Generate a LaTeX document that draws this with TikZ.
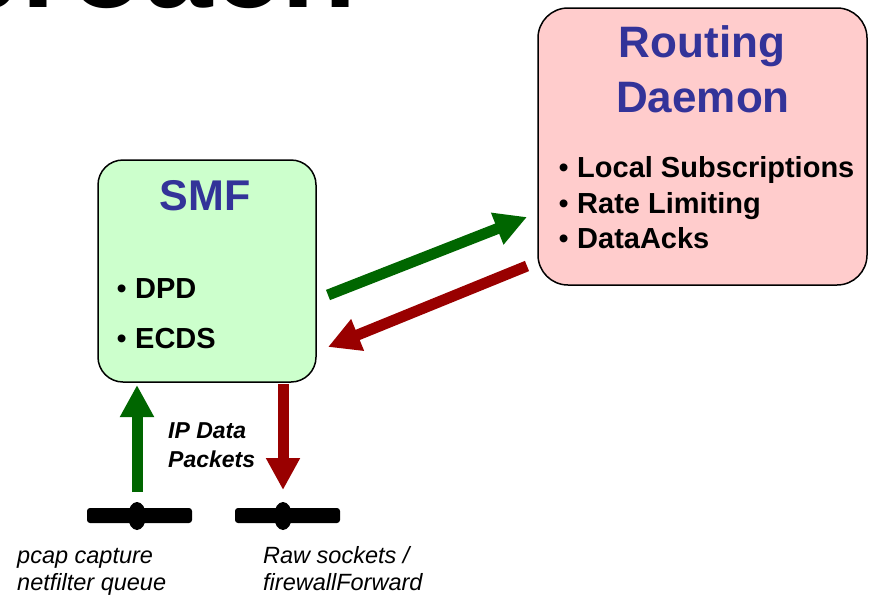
\documentclass[tikz,border=0pt]{standalone}
\usepackage{fontspec}
\setmainfont{Liberation Sans}
\usetikzlibrary{arrows.meta}
\definecolor{boxgreen}{HTML}{CCFFCC}
\definecolor{boxpink}{HTML}{FFCCCC}
\definecolor{titleblue}{HTML}{333399}
\definecolor{arrgreen}{HTML}{006600}
\definecolor{arrred}{HTML}{990000}
\newcommand{\fsz}[1]{\fontsize{#1}{#1}\selectfont}
\tikzset{
  box/.style={draw=black, line width=1.5pt, inner sep=0pt},
  boxtitle/.style={inner sep=0pt, anchor=base, text=titleblue, font=\fsz{44}\bfseries},
  bul/.style={inner sep=0pt, anchor=base west, font=\fsz{29}},
  item/.style={inner sep=0pt, anchor=base west, font=\fsz{29}\bfseries},
  itxt/.style={inner sep=0pt, anchor=base west, font=\fsz{23.5}\itshape},
  bitxt/.style={inner sep=0pt, anchor=base west, font=\fsz{23}\bfseries\itshape},
  bigarrow/.style={line width=11pt, -{Triangle[length=32pt,width=32pt]}},
  bar/.style={fill=black, rounded corners=3pt, minimum width=105pt, minimum height=15pt, inner sep=0pt},
  knob/.style={fill=black, ellipse, minimum width=18pt, minimum height=28pt, inner sep=0pt},
}
\usetikzlibrary{shapes.geometric}
\begin{document}
\begin{tikzpicture}[x=1pt,y=-1pt]
\useasboundingbox (0,0) rectangle (869,597);
\clip (0,0) rectangle (869,597);
% cropped title
\node[inner sep=0pt, anchor=base east, font=\fsz{123}\bfseries] (title) at (357,7) {Approach};
% SMF box
\node[box, fill=boxgreen, rounded corners=25pt, minimum width=218pt, minimum height=222pt] (smf) at (207,271) {};
\node[boxtitle, font=\fsz{43}\bfseries] (smft) at (205,210) {SMF};
\node[bul] (b1) at (116.5,298) {•};
\node[item] (dpd) at (135,298) {DPD};
\node[bul] (b2) at (116.5,348) {•};
\node[item] (ecds) at (135,348) {ECDS};
% Routing daemon box
\node[box, fill=boxpink, rounded corners=30pt, minimum width=329pt, minimum height=277pt] (rd) at (702.5,146.5) {};
\node[boxtitle] (rdt1) at (702,57) {Routing};
\node[boxtitle] (rdt2) at (703,112) {Daemon};
\node[bul] (b3) at (558.5,177) {•};
\node[item] (ls) at (577,177) {Local Subscriptions};
\node[bul] (b4) at (558.5,213) {•};
\node[item] (rl) at (577,213) {Rate Limiting};
\node[bul] (b5) at (558.5,248) {•};
\node[item] (da) at (577,248) {DataAcks};
% diagonal arrows
\coordinate (g1s) at (328,295);
\coordinate (g1e) at (527,217);
\coordinate (r1s) at (527,266);
\coordinate (r1e) at (328,347);
\draw[bigarrow, arrgreen] (g1s) -- (g1e);
\draw[bigarrow, arrred] (r1s) -- (r1e);
% interfaces
\node[bar] (barL) at (139.5,515.5) {};
\node[knob] (knobL) at (137,516) {};
\node[bar] (barR) at (287.5,515.5) {};
\node[knob] (knobR) at (283,516) {};
\coordinate (gvs) at (137,492);
\coordinate (gve) at (137,385);
\coordinate (rvs) at (283,384);
\coordinate (rve) at (283,490);
\draw[bigarrow, arrgreen] (gvs) -- (gve);
\draw[bigarrow, arrred] (rvs) -- (rve);
% labels
\node[bitxt] (ip1) at (168,438) {IP Data};
\node[bitxt] (ip2) at (168,467) {Packets};
\node[itxt] (l1) at (17,563) {pcap capture};
\node[itxt] (l2) at (17,590) {netfilter queue};
\node[itxt] (r1) at (263,563) {Raw sockets /};
\node[itxt] (r2) at (263,590) {firewallForward};
\end{tikzpicture}
\end{document}
